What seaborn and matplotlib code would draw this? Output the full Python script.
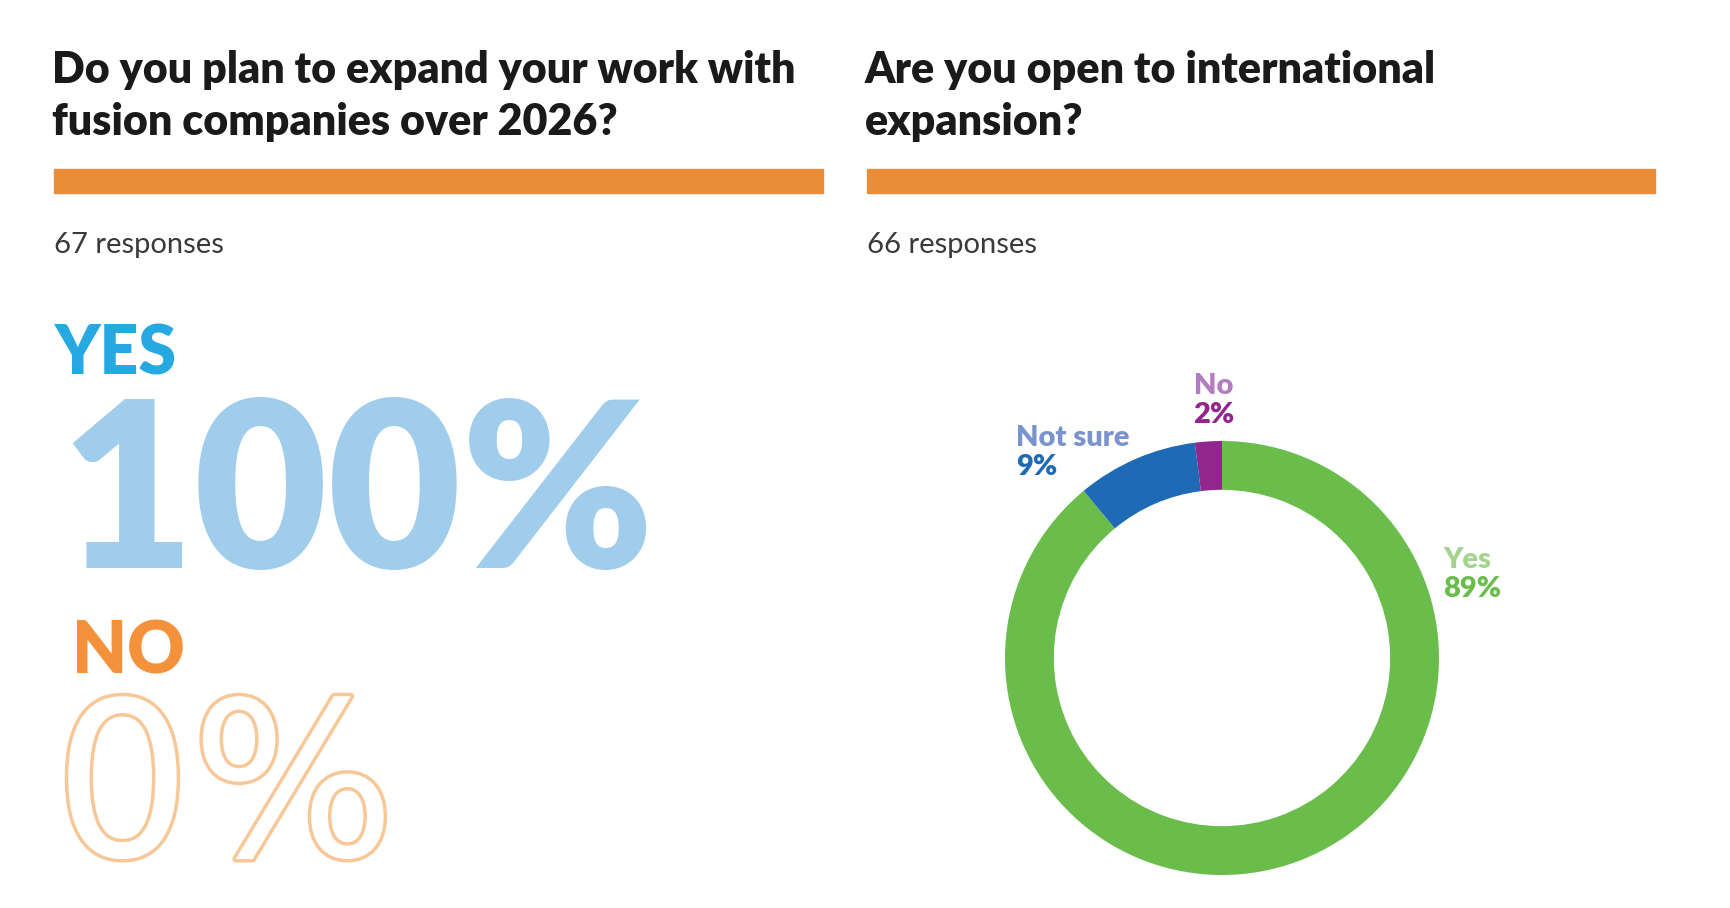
import matplotlib
matplotlib.use("Agg")
import matplotlib.pyplot as plt
import matplotlib.patheffects as pe
import seaborn as sns

# Data
titles = [
    ["Do you plan to expand your work with", "fusion companies over 2026?"],
    ["Are you open to international", "expansion?"],
]
responses = [67, 66]
plan_labels = ["YES", "NO"]
plan_values = [100, 0]
intl_labels = ["Yes", "Not sure", "No"]
intl_values = [89, 9, 2]

sns.set_theme(style="white")
plt.rcParams["font.family"] = ["Lato", "DejaVu Sans"]

W, H = 1730, 908
fig = plt.figure(figsize=(W / 100, H / 100), dpi=100)
fig.patch.set_facecolor("white")


def px(x, y):
    return x / W, 1 - y / H


def ftext(x, y, s, **kw):
    fx, fy = px(x, y)
    return fig.text(fx, fy, s, va="baseline", **kw)


# headers, orange rules and response counts
for left, right, lines, n in [(54, 823, titles[0], responses[0]),
                              (867, 1655, titles[1], responses[1])]:
    for i, line in enumerate(lines):
        ftext(left - 2, 83 + 52 * i, line, fontsize=31, fontweight="heavy",
              color="#1a1a1a")
    bx, by = px(left, 193)
    fig.patches.append(plt.Rectangle((bx, by), (right - left) / W, 24 / H,
                                     transform=fig.transFigure,
                                     color="#E88E3A", zorder=1))
    ftext(left, 253, f"{n} responses", fontsize=21, fontweight="normal",
          color="#3a3a3a")

# left panel: big numbers
ftext(55, 375, plan_labels[0], fontsize=49, fontweight="heavy", color="#25A9E0")
ftext(60, 568, f"{plan_values[0]}%", fontsize=166, fontweight="heavy",
      color="#A0CDEC")
ftext(72, 673, plan_labels[1], fontsize=51, fontweight="heavy", color="#F4913B")
ftext(54, 856, f"{plan_values[1]}%", fontsize=155, fontweight="normal",
      family="DejaVu Sans", color="white",
      path_effects=[pe.withStroke(linewidth=5, foreground="#F8C797")])

# right panel: donut
cx, cy, R = 1222, 658, 217
ax = fig.add_axes([(cx - R) / W, (H - cy - R) / H, 2 * R / W, 2 * R / H])
ring_colors = ["#6ABD4B", "#1F6AB4", "#91278E"]
ax.pie(intl_values, colors=ring_colors, startangle=90, counterclock=False,
       radius=1, wedgeprops=dict(width=0.225, edgecolor="none"))
ax.set_xlim(-1, 1)
ax.set_ylim(-1, 1)
ax.set_aspect("equal")
ax.axis("off")

label_colors = ["#A6D490", "#7B93CC", "#B47CC0"]
value_colors = ["#6ABD4B", "#1F6AB4", "#91278E"]
label_pos = [(1443, 568, "left"), (1016, 446, "left"), (1214, 394, "center")]
for lab, val, lc, vc, (x, y, ha) in zip(intl_labels, intl_values, label_colors,
                                        value_colors, label_pos):
    ftext(x, y, lab, fontsize=21, fontweight="heavy", color=lc, ha=ha)
    ftext(x, y + 29, f"{val}%", fontsize=21, fontweight="heavy", color=vc, ha=ha)

fig.savefig("out.png", dpi=100, facecolor="white")
